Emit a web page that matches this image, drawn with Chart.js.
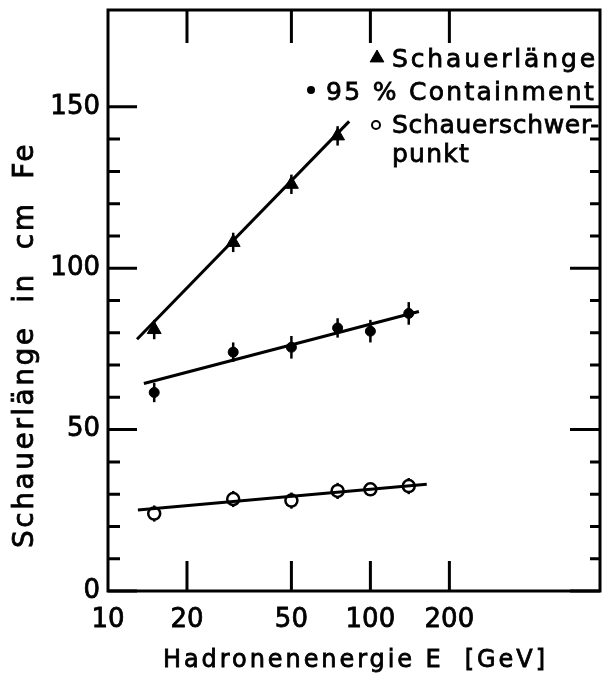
<!DOCTYPE html>
<html>
<head>
<meta charset="utf-8">
<script src="https://cdn.jsdelivr.net/npm/chart.js@4"></script>
<style>
  body { margin: 0; background: #fff; }
</style>
</head>
<body>
<canvas id="chart" width="609" height="676"></canvas>
<script>
// values
const energies = [15, 30, 50, 75, 100, 140];

const laengeE = [15, 30, 50, 75];
const laenge = [81, 108, 126, 141];
const laengeErr = [3, 3, 3, 3];

const containment = [61.5, 74, 75.5, 81.5, 80.5, 86];
const containmentErr = [3, 3, 3.5, 3, 3.5, 3.5];

const schwerpunkt = [24, 28.5, 28, 31, 31.5, 32.5];
const schwerpunktErr = [2.5, 2.5, 2.5, 2.5, 1.5, 2.5];

// fitted straight lines (end points)
const laengeFitE = [12.9, 83];
const laengeFit = [78, 145.5];
const containmentFitE = [13.7, 153];
const containmentFit = [64.3, 86.6];
const schwerpunktFitE = [13, 164];
const schwerpunktFit = [25.1, 33.1];

const xTicks = [10, 20, 50, 100, 200];
const yTicks = [0, 10, 20, 30, 40, 50, 60, 70, 80, 90, 100, 110, 120, 130, 140, 150];
const yLabels = [0, 50, 100, 150];

const textFont = "'DejaVu Sans', sans-serif";

const pts = (xs, ys) => xs.map((x, i) => ({ x: x, y: ys[i] }));

// stretch a text to a given width with letter spacing, slightly heavier stroke
function spreadText(ctx, text, x, y, width) {
  ctx.letterSpacing = '0px';
  const w0 = ctx.measureText(text).width;
  const sp = Math.max(0, (width - w0) / text.length);
  ctx.letterSpacing = sp.toFixed(2) + 'px';
  ctx.lineWidth = 0.8;
  ctx.fillText(text, x, y);
  ctx.strokeText(text, x, y);
  ctx.letterSpacing = '0px';
}

const paperPlot = {
  id: 'paperPlot',
  beforeDatasetsDraw(chart) {
    const { ctx, scales: { x, y } } = chart;
    ctx.save();
    ctx.strokeStyle = '#000';
    ctx.lineWidth = 2.5;
    chart.data.datasets.forEach(ds => {
      if (!ds.errors) return;
      ds.data.forEach((p, i) => {
        const px = x.getPixelForValue(p.x);
        ctx.beginPath();
        ctx.moveTo(px, y.getPixelForValue(p.y - ds.errors[i]));
        ctx.lineTo(px, y.getPixelForValue(p.y + ds.errors[i]));
        ctx.stroke();
      });
    });
    ctx.restore();
  },
  afterDraw(chart) {
    const { ctx, chartArea: a, scales: { x, y } } = chart;
    ctx.save();
    ctx.strokeStyle = '#000';
    ctx.fillStyle = '#000';
    ctx.lineWidth = 3;
    ctx.lineCap = 'square';
    ctx.strokeRect(a.left, a.top, a.right - a.left, a.bottom - a.top);

    // inward ticks
    ctx.lineWidth = 3;
    ctx.lineCap = 'butt';
    yTicks.forEach(v => {
      const py = y.getPixelForValue(v);
      const major = yLabels.includes(v);
      ctx.beginPath();
      ctx.moveTo(a.left, py);
      ctx.lineTo(a.left + (major ? 29 : 12), py);
      ctx.moveTo(a.right, py);
      ctx.lineTo(a.right - (major ? 30 : 10), py);
      ctx.stroke();
    });
    xTicks.forEach(v => {
      if (v === x.min) return;
      const px = x.getPixelForValue(v);
      ctx.beginPath();
      ctx.moveTo(px, a.bottom);
      ctx.lineTo(px, a.bottom - 30);
      ctx.moveTo(px, a.top);
      ctx.lineTo(px, a.top + 33);
      ctx.stroke();
    });

    // axis titles
    ctx.textBaseline = 'alphabetic';
    ctx.textAlign = 'left';
    ctx.font = '24px ' + textFont;
    spreadText(ctx, 'Hadronenenergie E  [GeV]', 163, 667, 385);

    ctx.save();
    ctx.translate(33, 548);
    ctx.rotate(-Math.PI / 2);
    ctx.font = '28px ' + textFont;
    spreadText(ctx, 'Schauerlänge  in  cm  Fe', 0, 0, 406);
    ctx.restore();

    // legend
    ctx.font = '25px ' + textFont;
    Chart.helpers.drawPoint(ctx, { pointStyle: 'triangle', radius: 8, rotation: 0, borderWidth: 1 }, 377, 58);
    ctx.fill();
    spreadText(ctx, 'Schauerlänge', 392, 67, 206);

    ctx.beginPath();
    ctx.arc(311, 90, 4, 0, Math.PI * 2);
    ctx.fill();
    spreadText(ctx, '95 % Containment', 326, 100, 270);

    ctx.beginPath();
    ctx.lineWidth = 2;
    ctx.arc(376, 125, 4, 0, Math.PI * 2);
    ctx.stroke();
    spreadText(ctx, 'Schauerschwer-', 392, 133, 208);
    spreadText(ctx, 'punkt', 392, 162, 78);
    ctx.restore();
  }
};

const ctx = document.getElementById('chart').getContext('2d');
new Chart(ctx, {
  type: 'scatter',
  data: {
    datasets: [
      {
        label: 'Fit Schauerlänge',
        data: pts(laengeFitE, laengeFit),
        showLine: true, borderColor: '#000', borderWidth: 3, pointRadius: 0
      },
      {
        label: 'Fit 95 % Containment',
        data: pts(containmentFitE, containmentFit),
        showLine: true, borderColor: '#000', borderWidth: 3, pointRadius: 0
      },
      {
        label: 'Fit Schauerschwerpunkt',
        data: pts(schwerpunktFitE, schwerpunktFit),
        showLine: true, borderColor: '#000', borderWidth: 3, pointRadius: 0
      },
      {
        label: 'Schauerlänge',
        data: pts(laengeE, laenge),
        errors: laengeErr,
        pointStyle: 'triangle', pointRadius: 8,
        backgroundColor: '#000', borderColor: '#000', borderWidth: 1
      },
      {
        label: '95 % Containment',
        data: pts(energies, containment),
        errors: containmentErr,
        pointStyle: 'circle', pointRadius: 5,
        backgroundColor: '#000', borderColor: '#000', borderWidth: 1
      },
      {
        label: 'Schauerschwerpunkt',
        data: pts(energies, schwerpunkt),
        errors: schwerpunktErr,
        pointStyle: 'circle', pointRadius: 6,
        backgroundColor: '#fff', borderColor: '#000', borderWidth: 2.5
      }
    ]
  },
  options: {
    responsive: false,
    animation: false,
    events: [],
    layout: { padding: { top: 10, right: 2, left: 0, bottom: 0 } },
    plugins: {
      legend: { display: false },
      tooltip: { enabled: false }
    },
    scales: {
      x: {
        type: 'logarithmic',
        min: 10,
        max: 750,
        grid: { display: false, drawTicks: false },
        border: { display: false },
        afterBuildTicks: scale => { scale.ticks = xTicks.map(v => ({ value: v })); },
        afterFit: scale => {
          scale.height = 85;
          scale.paddingLeft = 0;
          scale.paddingRight = 0;
        },
        ticks: {
          autoSkip: false,
          maxRotation: 0,
          padding: 14,
          color: '#000',
          textStrokeColor: '#000',
          textStrokeWidth: 0.8,
          font: { family: textFont, size: 26 },
          callback: v => String(v)
        }
      },
      y: {
        min: 0,
        max: 180,
        grid: { display: false, drawTicks: false },
        border: { display: false },
        afterBuildTicks: scale => { scale.ticks = yTicks.map(v => ({ value: v })); },
        afterFit: scale => {
          scale.width = 108;
          scale.paddingTop = 0;
          scale.paddingBottom = 0;
        },
        ticks: {
          autoSkip: false,
          padding: 8,
          color: '#000',
          textStrokeColor: '#000',
          textStrokeWidth: 0.8,
          font: { family: textFont, size: 26 },
          callback: v => (yLabels.includes(v) ? String(v) : '')
        }
      }
    }
  },
  plugins: [paperPlot]
});
</script>
</body>
</html>
